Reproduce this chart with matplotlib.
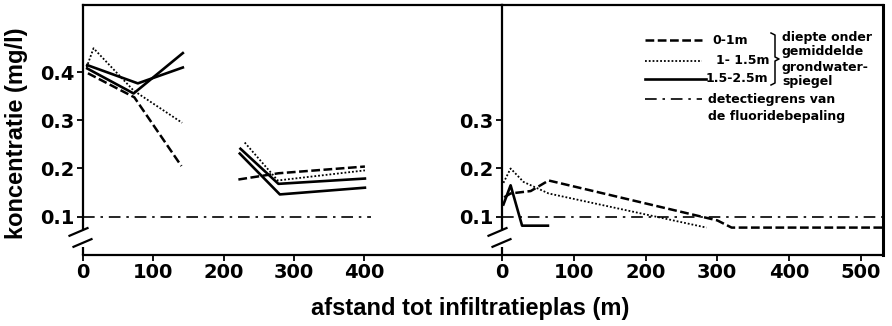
import numpy as np
import matplotlib.pyplot as plt
from matplotlib.lines import Line2D

plt.rcParams['font.family'] = ['DejaVu Sans']
plt.rcParams['font.weight'] = 'bold'

W, H = 892, 326

# --- left panel: two transects ---
near_x = [7, 73, 140]
near_ondiep = [0.398, 0.348, 0.205]          # 0-1 m
near_mid_x = [5, 15, 72, 141]
near_mid = [0.41, 0.45, 0.362, 0.295]        # 1-1.5 m
near_diep_a_x = [6, 78, 142]
near_diep_a = [0.415, 0.377, 0.41]           # 1.5-2.5 m
near_diep_b_x = [6, 72, 142]
near_diep_b = [0.408, 0.356, 0.44]

far_ondiep_x = [221, 278, 401]
far_ondiep = [0.177, 0.19, 0.204]
far_mid_x = [230, 277, 401]
far_mid = [0.254, 0.175, 0.196]
far_diep_a_x = [224, 278, 401]
far_diep_a = [0.241, 0.168, 0.179]
far_diep_b_x = [223, 280, 401]
far_diep_b = [0.231, 0.146, 0.16]

# --- right panel ---
r_ondiep_x = [3, 12, 40, 65, 300, 320, 531]
r_ondiep = [0.14, 0.148, 0.153, 0.175, 0.092, 0.077, 0.077]
r_mid_x = [2, 12, 30, 65, 285]
r_mid = [0.17, 0.2, 0.172, 0.148, 0.077]
r_diep_x = [2, 12, 28, 64]
r_diep = [0.125, 0.165, 0.081, 0.081]

detectiegrens = 0.1
left_xticks = [0, 100, 200, 300, 400]
right_xticks = [0, 100, 200, 300, 400, 500]
left_yticks = [0.1, 0.2, 0.3, 0.4]
right_yticks = [0.1, 0.2, 0.3]

DASH = dict(color='k', lw=1.8, linestyle=(0, (3.5, 1.4)))
DOT = dict(color='k', lw=1.3, linestyle=(0, (1, 1.1)))
SOLID = dict(color='k', lw=1.9, linestyle='-')
DETECT = dict(color='k', lw=1.2, linestyle=(0, (7, 3.5, 1.5, 3.5)))

fig = plt.figure(figsize=(W / 100, H / 100), dpi=100)
axl = fig.add_axes([83 / W, 71 / H, 419 / W, 250 / H])
axr = fig.add_axes([502 / W, 71 / H, 381 / W, 250 / H])

axl.plot(near_x, near_ondiep, **DASH)
axl.plot(near_mid_x, near_mid, **DOT)
axl.plot(near_diep_a_x, near_diep_a, **SOLID)
axl.plot(near_diep_b_x, near_diep_b, **SOLID)
axl.plot(far_ondiep_x, far_ondiep, **DASH)
axl.plot(far_mid_x, far_mid, **DOT)
axl.plot(far_diep_a_x, far_diep_a, **SOLID)
axl.plot(far_diep_b_x, far_diep_b, **SOLID)
axl.plot([0, 410], [detectiegrens, detectiegrens], **DETECT)

axr.plot(r_ondiep_x, r_ondiep, **DASH)
axr.plot(r_mid_x, r_mid, **DOT)
axr.plot(r_diep_x, r_diep, **SOLID)
axr.plot([0, 531], [detectiegrens, detectiegrens], **DETECT)

axl.set_xlim(0, 596)
axr.set_xlim(0, 531)


def style_axis(ax, xticks, yticks, width_px):
    ax.set_ylim(0.02, 0.54)
    ax.set_xticks(xticks)
    ax.set_xticklabels([str(t) for t in xticks])
    ax.set_yticks(yticks)
    ax.set_yticklabels(['%.1f' % t for t in yticks])
    ax.tick_params(direction='out', length=4, width=1.3, labelsize=14, pad=2)
    for s in ax.spines.values():
        s.set_linewidth(1.6)
    # broken y axis
    ax.spines['left'].set_bounds(0.075, 0.54)
    tr = ax.get_yaxis_transform()
    ax.plot([0, 0], [0.02, 0.0375], color='k', lw=1.6, transform=tr,
            clip_on=False, solid_capstyle='butt')
    d = 9 / width_px
    for yc, ofs in [(0.068, -4.5), (0.045, -0.5)]:
        c = ofs / width_px
        ax.plot([c - d, c + d], [yc - 0.008, yc + 0.008], color='k', lw=1.6,
                transform=tr, clip_on=False)


style_axis(axl, left_xticks, left_yticks, 419)
style_axis(axr, right_xticks, right_yticks, 381)
axl.spines['right'].set_visible(False)
axr.spines['right'].set_linewidth(2.2)


def px(x, y):
    return x / W, 1 - y / H


fig.text(*px(470, 308), 'afstand tot infiltratieplas (m)', ha='center',
         va='center', fontsize=17, family='Liberation Sans')
fig.text(*px(17, 133), 'koncentratie (mg/l)', ha='center', va='center',
         rotation=90, fontsize=17, family='Liberation Sans')

# legend
legend_rows = [
    (DASH, 645, 702, 40, '0-1m', 712),
    (DOT, 645, 702, 61, '1- 1.5m', 716),
    (SOLID, 645, 706, 79, '1.5-2.5m', 706),
    (DETECT, 645, 702, 99, 'detectiegrens van', 708),
]
for style, x0, x1, y, label, tx in legend_rows:
    (a, b), (c, e) = px(x0, y), px(x1, y)
    fig.add_artist(Line2D([a, c], [b, e], transform=fig.transFigure, **style))
    fig.text(*px(tx, y), label, ha='left', va='center', fontsize=9)
fig.text(*px(708, 117), 'de fluoridebepaling', ha='left', va='center',
         fontsize=9)

brace = [(771, 33), (775, 35), (775, 57), (779, 59), (775, 61), (775, 83),
         (771, 85)]
bx, by = zip(*[px(x, y) for x, y in brace])
fig.add_artist(Line2D(bx, by, transform=fig.transFigure, color='k', lw=1.1))
for y, txt in [(37, 'diepte onder'), (52, 'gemiddelde'), (67, 'grondwater-'),
               (81, 'spiegel')]:
    fig.text(*px(782, y), txt, ha='left', va='center', fontsize=9)

fig.savefig('out.png', dpi=100)
